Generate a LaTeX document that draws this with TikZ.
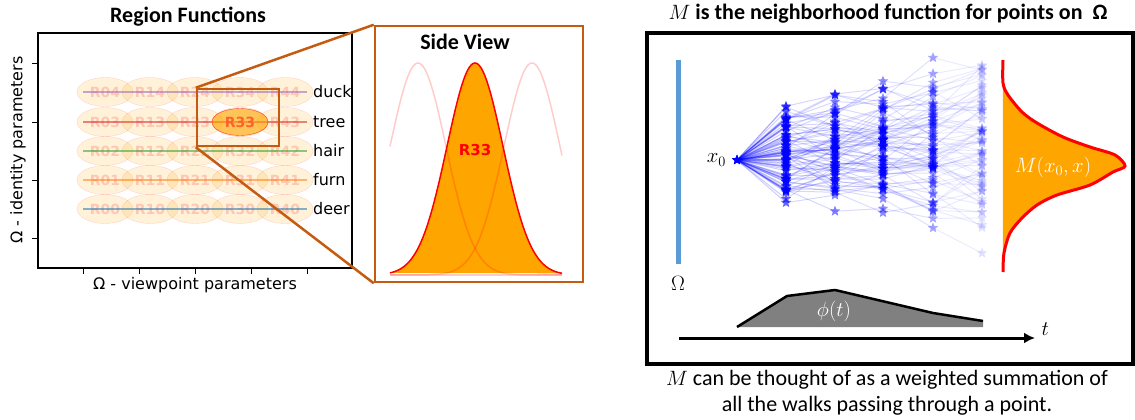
\documentclass[tikz,border=0pt]{standalone}
\usepackage{fontspec}
\setmainfont{Carlito}
\newfontfamily\plotfont{DejaVu Sans}
\usetikzlibrary{arrows.meta, positioning, shapes.geometric, calc}
\definecolor{zoomBrown}{HTML}{C55A11}
\definecolor{omegaBlue}{HTML}{5B9BD5}
\definecolor{mplBlue}{HTML}{1F77B4}
\definecolor{mplOrange}{HTML}{FF7F0E}
\definecolor{mplGreen}{HTML}{2CA02C}
\definecolor{mplRed}{HTML}{D62728}
\definecolor{mplPurple}{HTML}{9467BD}
\definecolor{distOrange}{HTML}{FFA500}
\definecolor{regionText}{HTML}{FF5A2A}

\tikzset{
  region/.style={ellipse, minimum width=56pt, minimum height=29pt, inner sep=0pt,
    fill=distOrange, fill opacity=0.15, draw=red, draw opacity=0.15,
    text=red, text opacity=0.18, font=\plotfont\bfseries\fontsize{14}{14}\selectfont},
  hilite/.style={region, fill opacity=0.6, draw opacity=0.7, text=regionText,
    text opacity=0.9, minimum height=27pt},
  rowline/.style={line width=2.5pt, opacity=0.55},
  rowlabel/.style={anchor=west, inner sep=0pt, font=\plotfont\fontsize{16}{16}\selectfont},
  paneltitle/.style={font=\bfseries\fontsize{22}{22}\selectfont},
  walk/.style={blue, line width=1pt},
  wstar/.style={star, star points=5, star point ratio=2.3, minimum size=11pt,
    inner sep=0pt, fill=blue, draw=none},
}

\begin{document}
\begin{tikzpicture}[x=1pt, y=-1pt]
  \useasboundingbox (0,0) rectangle (1135,420);

  % region functions
  \node[paneltitle] (rftitle) at (188,17) {Region Functions};
  \node[draw, line width=2pt, minimum width=314pt, minimum height=235pt, inner sep=0pt]
    (axes) at (195,150.5) {};
  \foreach \ty in {63,122,180,238}
    \draw[line width=0.8pt] (axes.west |- 0,\ty) -- ++(-5,0);
  \foreach \tx in {83,139,195,251,307}
    \draw[line width=0.8pt] (axes.south -| \tx,0) -- ++(0,5);
  \node[rotate=90, font=\plotfont\fontsize{16}{16}\selectfont] (ylab) at (18,150)
    {Ω - identity parameters};
  \node[font=\plotfont\fontsize{16}{16}\selectfont] (xlab) at (195,285)
    {Ω - viewpoint parameters};

  \foreach \row/\ry in {0/209,1/180,2/151,3/122,4/92}
    \foreach \col/\cx in {0/105,1/150,2/195,3/240,4/285}
      \node[region] (r\col\row) at (\cx,\ry) {R\col\row};

  \foreach \ry/\clr/\name in {92/mplPurple/duck,122/mplRed/tree,151/mplGreen/hair,
      180/mplOrange/furn,209/mplBlue/deer}{
    \draw[rowline, \clr] (83,\ry) -- (307,\ry);
    \node[rowlabel] at (313,\ry) {\name};
  }
  \node[hilite] (r33hi) at (240,122) {R33};

  % zoom into side view
  \node[draw=zoomBrown, line width=2.5pt, minimum width=82pt, minimum height=57pt,
    inner sep=0pt] (zoombox) at (238,117.5) {};
  \node[draw=zoomBrown, line width=2.5pt, minimum width=208pt, minimum height=256pt,
    inner sep=0pt] (sideview) at (479,154) {};
  \draw[zoomBrown, line width=2.5pt] (zoombox.north west) -- (sideview.north west);
  \draw[zoomBrown, line width=2.5pt] (zoombox.south west) -- (sideview.south west);
  \node[paneltitle] (svtitle) at (465,42) {Side View};

  \fill[distOrange] plot[domain=390:562, samples=90]
    (\x, {275-212*exp(-0.5*((\x-475)/28)^2)}) -- cycle;
  \draw[red, line width=1.5pt] plot[domain=390:562, samples=90]
    (\x, {275-212*exp(-0.5*((\x-475)/28)^2)});
  \foreach \mu in {418,532}
    \draw[red, opacity=0.2, line width=1.5pt] plot[domain=390:562, samples=90]
      (\x, {275-212*exp(-0.5*((\x-\mu)/28)^2)});
  \draw[red, opacity=0.2, line width=1.5pt] (390,275) -- (562,275);
  \node[text=red, font=\plotfont\bfseries\fontsize{15}{15}\selectfont] (svlab)
    at (475,150) {R33};

  % neighborhood function
  \node[font=\fontsize{22}{22}\selectfont] (mtitle) at (888,14)
    {$M$ \textbf{is the neighborhood function for points on~~Ω}};
  \draw[line width=3.5pt] (1133,33) -- (647,33) -- (647,364) -- (1133,364) -- cycle;
  \draw[omegaBlue, line width=5pt] (678,60) -- (678,264);
  \node[font=\fontsize{20}{20}\selectfont] (omega) at (678,283) {$\Omega$};

  \node[wstar] (x0) at (737,160) {};
  \node[left=4pt of x0, font=\fontsize{21}{21}\selectfont] (x0lab) {$x_0$};

  \pgfmathsetseed{11}
  \foreach \w in {1,...,80}{
    \pgfmathsetmacro{\ya}{155+30*(rand+rand)}
    \pgfmathsetmacro{\yb}{\ya-3+20*(rand+rand)}
    \pgfmathsetmacro{\yc}{\yb-3+20*(rand+rand)}
    \pgfmathsetmacro{\yd}{\yc-3+22*(rand+rand)}
    \pgfmathsetmacro{\ye}{\yd-3+24*(rand+rand)}
    \draw[walk, opacity=0.2] (x0.center) -- (786,\ya);
    \draw[walk, opacity=0.16] (786,\ya) -- (835,\yb);
    \draw[walk, opacity=0.14] (835,\yb) -- (883,\yc);
    \draw[walk, opacity=0.12] (883,\yc) -- (933,\yd);
    \draw[walk, opacity=0.08] (933,\yd) -- (982,\ye);
  }
  \pgfmathsetseed{11}
  \foreach \w in {1,...,80}{
    \pgfmathsetmacro{\ya}{155+30*(rand+rand)}
    \pgfmathsetmacro{\yb}{\ya-3+20*(rand+rand)}
    \pgfmathsetmacro{\yc}{\yb-3+20*(rand+rand)}
    \pgfmathsetmacro{\yd}{\yc-3+22*(rand+rand)}
    \pgfmathsetmacro{\ye}{\yd-3+24*(rand+rand)}
    \node[wstar, opacity=0.6] at (786,\ya) {};
    \node[wstar, opacity=0.5] at (835,\yb) {};
    \node[wstar, opacity=0.45] at (883,\yc) {};
    \node[wstar, opacity=0.35] at (933,\yd) {};
    \node[wstar, opacity=0.12] at (982,\ye) {};
  }
  \node[wstar] at (x0) {};

  \filldraw[distOrange] (1003,60) plot[smooth, tension=0.5] coordinates {
    (1003,60) (1003,83) (1008,95) (1022,112) (1037,123) (1063,137) (1090,147)
    (1115,155) (1125,166) (1113,172) (1090,185) (1057,195) (1037,205)
    (1022,218) (1010,233) (1004,253) (1003,272)} -- cycle;
  \draw[red, line width=3pt] plot[smooth, tension=0.5] coordinates {
    (1003,60) (1003,83) (1008,95) (1022,112) (1037,123) (1063,137) (1090,147)
    (1115,155) (1125,166) (1113,172) (1090,185) (1057,195) (1037,205)
    (1022,218) (1010,233) (1004,253) (1003,272)};
  \node[text=white, font=\fontsize{20}{20}\selectfont] (mlab) at (1053,167) {$M(x_0,x)$};

  \fill[gray] (737,327) -- (787,296) -- (835,290) -- (933,313) -- (983,321)
    -- (983,327) -- cycle;
  \draw[line width=2.5pt, line join=round] (737,327) -- (787,296) -- (835,290)
    -- (933,313) -- (983,321);
  \node[text=white, font=\fontsize{20}{20}\selectfont] (philab) at (834,311) {$\phi(t)$};

  \coordinate (tstart) at (679,338);
  \coordinate (tend) at (1035,338);
  \draw[line width=3pt, -{Latex[length=11pt, width=11pt]}] (tstart) -- (tend);
  \node[right=3pt of tend, yshift=9pt, font=\fontsize{21}{21}\selectfont] (tlab) {$t$};

  \node[align=center, font=\fontsize{22}{26}\selectfont] (caption) at (887,393)
    {$M$ can be thought of as a weighted summation of\\all the walks passing through a point.};
\end{tikzpicture}
\end{document}
